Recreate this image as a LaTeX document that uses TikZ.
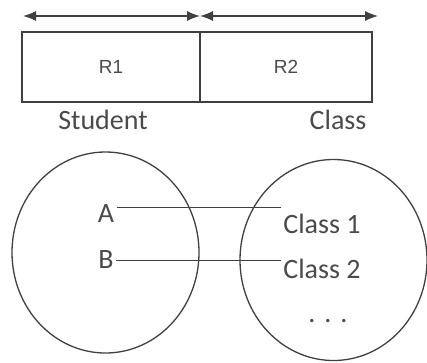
\documentclass[tikz,border=0pt]{standalone}
\usepackage{fontspec}
\setmainfont{Carlito}
\newfontfamily\cellfont{Liberation Sans}
\usetikzlibrary{arrows.meta, shapes.geometric}
\definecolor{inkgray}{HTML}{404040}
\definecolor{txtgray}{HTML}{4A4A4A}

\begin{document}
\begin{tikzpicture}[x=1pt, y=-1pt, >={Latex[length=13pt, width=10pt]}, line width=1.3pt,
  lbl/.style={text=txtgray, inner sep=2pt, font=\fontsize{28}{30}\selectfont},
  cell/.style={draw=inkgray, minimum height=70pt, text=txtgray, font=\cellfont\fontsize{19}{21}\selectfont},
  setring/.style={draw=inkgray, ellipse, minimum width=187pt, minimum height=201pt}]

\useasboundingbox (0,0) rectangle (427,362);

%% TOP: record split into two fields
\node[cell, minimum width=178pt] (r1) at (111,67) {R1};
\node[cell, minimum width=172pt] (r2) at (286,67) {R2};

% Field extents
\coordinate (lend) at (23,16);
\coordinate (mid) at (200,16);
\coordinate (rend) at (378,16);
\draw[inkgray, <->] (lend) -- (mid);
\draw[inkgray, <->] (mid) -- (rend);

% Field names
\node[lbl] (student) at (103,120) {Student};
\node[lbl] (clslbl) at (338,120) {Class};

%% BOTTOM: the two sets
\node[setring] (setL) at (105.5,252.5) {};
\node[setring] (setR) at (333.5,260) {};

% Members of Student
\node[lbl] (a) at (106,214) {A};
\node[lbl] (b) at (106,260) {B};

% Members of Class
\node[lbl] (c1) at (322,224) {Class 1};
\node[lbl] (c2) at (322,269) {Class 2};
\node[lbl] (more) at (328,321) {.\hspace{9pt}.\hspace{9pt}.};

% Links between the sets
\draw[inkgray, line width=1pt] ([yshift=7pt]a.east) -- ([yshift=7pt]a.east -| c1.west);
\draw[inkgray, line width=1pt] (b.east) -- (b.east -| c2.west);

\end{tikzpicture}
\end{document}
